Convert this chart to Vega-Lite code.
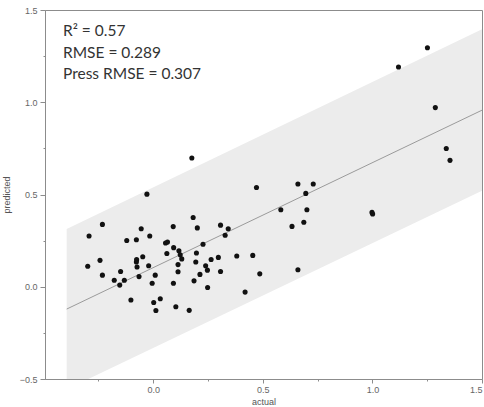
{
  "$schema": "https://vega.github.io/schema/vega-lite/v6.json",
  "width": 437,
  "height": 369,
  "autosize": {"type": "none"},
  "padding": {"left": 45, "top": 10, "right": 2, "bottom": 28},
  "background": "white",
  "config": {
    "view": {"stroke": "#8c8c8c", "strokeWidth": 1},
    "axis": {
      "grid": false,
      "domainColor": "#8c8c8c",
      "tickColor": "#8c8c8c",
      "labelColor": "#666666",
      "titleColor": "#555555",
      "labelFont": "Liberation Sans",
      "titleFont": "Liberation Sans",
      "labelFontSize": 9,
      "titleFontSize": 9,
      "titleFontWeight": "normal"
    }
  },
  "datasets": {
    "pts": [
      {"actual": -0.232, "predicted": 0.338},
      {"actual": -0.293, "predicted": 0.275},
      {"actual": -0.299, "predicted": 0.111},
      {"actual": -0.243, "predicted": 0.143},
      {"actual": -0.232, "predicted": 0.063},
      {"actual": -0.178, "predicted": 0.035},
      {"actual": -0.149, "predicted": 0.083},
      {"actual": -0.153, "predicted": 0.009},
      {"actual": -0.132, "predicted": 0.035},
      {"actual": -0.102, "predicted": -0.072},
      {"actual": -0.121, "predicted": 0.251},
      {"actual": -0.077, "predicted": 0.255},
      {"actual": -0.055, "predicted": 0.314},
      {"actual": -0.016, "predicted": 0.275},
      {"actual": -0.048, "predicted": 0.163},
      {"actual": -0.076, "predicted": 0.147},
      {"actual": -0.077, "predicted": 0.134},
      {"actual": -0.074, "predicted": 0.107},
      {"actual": -0.065, "predicted": 0.055},
      {"actual": -0.021, "predicted": 0.114},
      {"actual": -0.005, "predicted": 0.019},
      {"actual": 0.009, "predicted": 0.063},
      {"actual": 0.002, "predicted": -0.085},
      {"actual": 0.032, "predicted": -0.065},
      {"actual": 0.012, "predicted": -0.129},
      {"actual": 0.056, "predicted": 0.237},
      {"actual": 0.065, "predicted": 0.242},
      {"actual": 0.062, "predicted": 0.180},
      {"actual": 0.091, "predicted": 0.326},
      {"actual": 0.093, "predicted": 0.212},
      {"actual": 0.117, "predicted": 0.195},
      {"actual": 0.123, "predicted": 0.173},
      {"actual": 0.130, "predicted": 0.151},
      {"actual": 0.113, "predicted": 0.120},
      {"actual": 0.113, "predicted": 0.081},
      {"actual": 0.092, "predicted": 0.019},
      {"actual": 0.103, "predicted": -0.108},
      {"actual": 0.164, "predicted": -0.128},
      {"actual": 0.182, "predicted": 0.375},
      {"actual": 0.201, "predicted": 0.319},
      {"actual": 0.227, "predicted": 0.230},
      {"actual": 0.197, "predicted": 0.183},
      {"actual": 0.194, "predicted": 0.134},
      {"actual": 0.186, "predicted": 0.032},
      {"actual": 0.213, "predicted": 0.067},
      {"actual": 0.239, "predicted": 0.114},
      {"actual": 0.247, "predicted": 0.090},
      {"actual": 0.248, "predicted": -0.004},
      {"actual": 0.264, "predicted": 0.148},
      {"actual": 0.297, "predicted": 0.159},
      {"actual": 0.307, "predicted": 0.083},
      {"actual": 0.307, "predicted": 0.334},
      {"actual": 0.342, "predicted": 0.314},
      {"actual": 0.328, "predicted": 0.279},
      {"actual": 0.381, "predicted": 0.167},
      {"actual": 0.419, "predicted": -0.029},
      {"actual": 0.471, "predicted": 0.538},
      {"actual": 0.660, "predicted": 0.557},
      {"actual": 0.730, "predicted": 0.557},
      {"actual": 0.696, "predicted": 0.506},
      {"actual": 0.582, "predicted": 0.417},
      {"actual": 0.701, "predicted": 0.417},
      {"actual": 0.687, "predicted": 0.350},
      {"actual": 0.633, "predicted": 0.327},
      {"actual": 0.454, "predicted": 0.170},
      {"actual": 0.486, "predicted": 0.070},
      {"actual": 0.660, "predicted": 0.092},
      {"actual": 0.998, "predicted": 0.403},
      {"actual": 1.001, "predicted": 0.394},
      {"actual": 1.251, "predicted": 1.295},
      {"actual": 1.119, "predicted": 1.191},
      {"actual": 1.287, "predicted": 0.971},
      {"actual": 1.337, "predicted": 0.749},
      {"actual": 1.354, "predicted": 0.685},
      {"actual": 0.176, "predicted": 0.698},
      {"actual": -0.029, "predicted": 0.502}
    ],
    "band": [
      {"actual": -0.395, "lo": -0.556, "hi": 0.313},
      {"actual": 1.5, "lo": 0.52, "hi": 1.395}
    ],
    "fit": [
      {"actual": -0.395, "predicted": -0.121},
      {"actual": 1.5, "predicted": 0.957}
    ]
  },
  "layer": [
    {
      "data": {"name": "band"},
      "mark": {"type": "area", "color": "#ececec", "opacity": 1, "clip": true},
      "encoding": {
        "x": {
          "field": "actual",
          "type": "quantitative",
          "scale": {"domain": [-0.494, 1.5], "nice": false, "zero": false},
          "axis": {
            "title": "actual",
            "values": [-0.25, 0, 0.25, 0.5, 0.75, 1, 1.25, 1.5],
            "labelExpr": "abs(datum.value*2 - round(datum.value*2)) < 0.001 ? format(datum.value, '.1f') : ''",
            "tickSize": {"condition": {"test": "abs(datum.value*2 - round(datum.value*2)) < 0.001", "value": 4}, "value": 2},
            "labelPadding": 2,
            "titlePadding": 3
          }
        },
        "y": {
          "field": "hi",
          "type": "quantitative",
          "scale": {"domain": [-0.5, 1.5], "nice": false, "zero": false},
          "axis": {
            "title": "predicted",
            "values": [-0.5, -0.25, 0, 0.25, 0.5, 0.75, 1, 1.25, 1.5],
            "labelExpr": "abs(datum.value*2 - round(datum.value*2)) < 0.001 ? format(datum.value, '.1f') : ''",
            "tickSize": {"condition": {"test": "abs(datum.value*2 - round(datum.value*2)) < 0.001", "value": 5}, "value": 2},
            "labelPadding": 3,
            "titlePadding": 8
          }
        },
        "y2": {"field": "lo"}
      }
    },
    {
      "data": {"name": "fit"},
      "mark": {"type": "line", "color": "#9a9a9a", "strokeWidth": 1, "clip": true},
      "encoding": {
        "x": {"field": "actual", "type": "quantitative"},
        "y": {"field": "predicted", "type": "quantitative"}
      }
    },
    {
      "data": {"name": "pts"},
      "mark": {"type": "circle", "size": 26, "color": "#111111", "opacity": 1},
      "encoding": {
        "x": {"field": "actual", "type": "quantitative"},
        "y": {"field": "predicted", "type": "quantitative"}
      }
    },
    {
      "data": {"values": [{}]},
      "mark": {
        "type": "text",
        "text": ["R² = 0.57", "RMSE = 0.289", "Press RMSE = 0.307"],
        "font": "Lato",
        "fontSize": 15.5,
        "align": "left",
        "baseline": "top",
        "lineHeight": 21.5,
        "color": "#333333"
      },
      "encoding": {
        "x": {"datum": -0.412},
        "y": {"datum": 1.423}
      }
    }
  ]
}
